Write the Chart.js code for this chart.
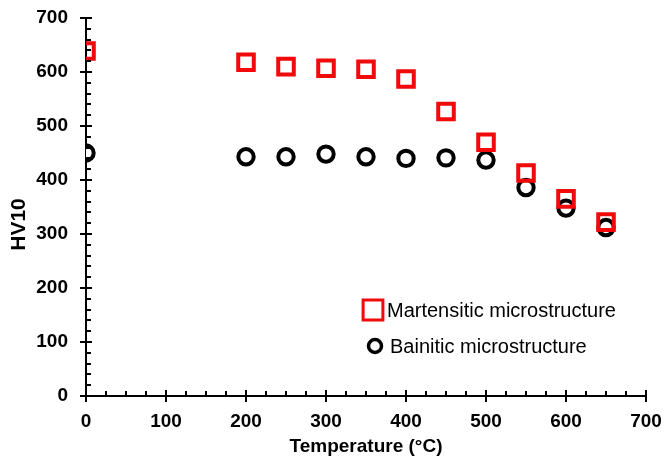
<!DOCTYPE html>
<html>
<head>
<meta charset="utf-8">
<script src="https://cdn.jsdelivr.net/npm/chart.js@4.4.1/dist/chart.umd.min.js"></script>
<style>
  html, body { margin: 0; padding: 0; background: #fff; }
  #wrap { width: 664px; height: 462px; position: relative; }
</style>
</head>
<body>
<div id="wrap"><canvas id="chart"></canvas></div>
<script>
// 数据
const temperatures = [0, 200, 250, 300, 350, 400, 450, 500, 550, 600, 650];
const martensiticHV = [639, 618, 610, 607, 605, 587, 527, 470, 413, 365, 322];
const bainiticHV = [450, 443, 443, 448, 443, 440, 441, 437, 386, 348, 312];
const xTicks = [0, 100, 200, 300, 400, 500, 600, 700];
const yTicks = [0, 100, 200, 300, 400, 500, 600, 700];
const seriesNames = ['Martensitic microstructure', 'Bainitic microstructure'];

const RED = '#f00a0a';
const FONT = '"Liberation Sans", Arial, sans-serif';

const toPoints = (xs, ys) => xs.map((x, i) => ({ x: x, y: ys[i] }));

// 坐标轴刻度（主刻度穿过轴线，次刻度朝内）
const axisTicks = {
    id: 'axisTicks',
    afterDraw(chart) {
        const { ctx, chartArea, scales } = chart;
        const x = scales.x, y = scales.y;
        ctx.save();
        ctx.strokeStyle = '#000';
        ctx.lineWidth = 2;
        ctx.beginPath();
        for (let v = 0; v <= 700; v += 25) {
            const px = Math.round(x.getPixelForValue(v));
            const major = v % 100 === 0;
            ctx.moveTo(px, chartArea.bottom + (major ? 6 : 0));
            ctx.lineTo(px, chartArea.bottom - (major ? 6 : 5));
        }
        for (let v = 0; v <= 700; v += 20) {
            const py = Math.round(y.getPixelForValue(v));
            const major = v % 100 === 0;
            ctx.moveTo(chartArea.left - (major ? 6 : 0), py);
            ctx.lineTo(chartArea.left + (major ? 6 : 5), py);
        }
        ctx.stroke();
        ctx.restore();
    }
};

// 图内图例
const innerLegend = {
    id: 'innerLegend',
    afterDraw(chart) {
        const { ctx } = chart;
        const items = [
            { style: 'rect', r: 10, color: RED, bw: 3, x: 373, y: 310 },
            { style: 'circle', r: 6.5, color: '#000', bw: 3.5, x: 375, y: 346 }
        ];
        ctx.save();
        items.forEach((it, i) => {
            ctx.strokeStyle = it.color;
            ctx.lineWidth = it.bw;
            ctx.beginPath();
            if (it.style === 'rect') {
                const s = it.r * Math.SQRT1_2 * 1.4;
                ctx.rect(it.x - s, it.y - s, 2 * s, 2 * s);
            } else {
                ctx.arc(it.x, it.y, it.r, 0, Math.PI * 2);
            }
            ctx.stroke();
            ctx.fillStyle = '#000';
            ctx.font = '20px ' + FONT;
            ctx.textBaseline = 'middle';
            ctx.fillText(seriesNames[i], i === 0 ? 387 : 390, it.y + 1);
        });
        ctx.restore();
    }
};

const tickFont = { family: FONT, size: 19, weight: 'bold' };

new Chart(document.getElementById('chart'), {
    type: 'scatter',
    data: {
        datasets: [
            {
                label: seriesNames[0],
                data: toPoints(temperatures, martensiticHV),
                pointStyle: 'rect',
                pointRadius: 11,
                pointHoverRadius: 11,
                pointBorderWidth: 4,
                borderColor: RED,
                backgroundColor: 'rgba(0,0,0,0)'
            },
            {
                label: seriesNames[1],
                data: toPoints(temperatures, bainiticHV),
                pointStyle: 'circle',
                pointRadius: 7.7,
                pointHoverRadius: 7.7,
                pointBorderWidth: 4,
                borderColor: '#000',
                backgroundColor: '#fff'
            }
        ]
    },
    options: {
        responsive: true,
        maintainAspectRatio: false,
        animation: false,
        layout: { padding: { top: 18, right: 18, left: 0, bottom: 0 } },
        plugins: {
            legend: { display: false },
            tooltip: { enabled: false }
        },
        scales: {
            x: {
                min: 0,
                max: 700,
                afterBuildTicks: s => { s.ticks = xTicks.map(v => ({ value: v })); },
                afterFit: s => { s.height = 66; s.paddingLeft = 0; s.paddingRight = 0; },
                grid: { display: false },
                border: { display: true, color: '#000', width: 2 },
                ticks: { color: '#000', font: tickFont, padding: 6, maxRotation: 0 },
                title: {
                    display: true,
                    text: 'Temperature (°C)',
                    color: '#000',
                    font: { family: FONT, size: 19, weight: 'bold' },
                    padding: { top: 0, bottom: 4 }
                }
            },
            y: {
                min: 0,
                max: 700,
                afterBuildTicks: s => { s.ticks = yTicks.map(v => ({ value: v })); },
                afterFit: s => { s.width = 86; s.paddingTop = 0; s.paddingBottom = 0; },
                grid: { display: false },
                border: { display: true, color: '#000', width: 2 },
                ticks: { color: '#000', font: tickFont, padding: 10 },
                title: {
                    display: true,
                    text: 'HV10      ',
                    color: '#000',
                    font: { family: FONT, size: 21, weight: 'bold' },
                    padding: { top: 7, bottom: 0 }
                }
            }
        }
    },
    plugins: [axisTicks, innerLegend]
});
</script>
</body>
</html>
